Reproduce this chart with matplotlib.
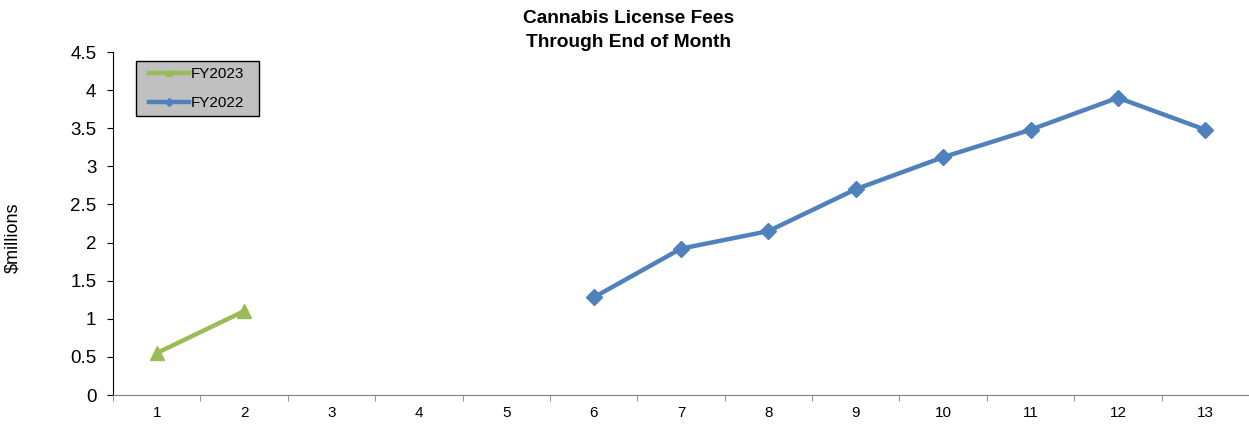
import matplotlib
matplotlib.use("Agg")
import matplotlib.pyplot as plt
from matplotlib.patches import Rectangle
import numpy as np

plt.rcParams['font.family'] = ['Liberation Sans', 'DejaVu Sans']

months = list(range(1, 14))
fy2023_x = [1, 2]
fy2023 = [0.55, 1.10]
fy2022_x = [6, 7, 8, 9, 10, 11, 12, 13]
fy2022 = [1.28, 1.92, 2.15, 2.70, 3.12, 3.48, 3.90, 3.48]
yticks = [0, 0.5, 1, 1.5, 2, 2.5, 3, 3.5, 4, 4.5]
ytick_labels = ['0', '0.5', '1', '1.5', '2', '2.5', '3', '3.5', '4', '4.5']

green = '#9BBB59'
blue = '#4F81BD'

W, H = 1249, 425
fig = plt.figure(figsize=(W/100, H/100), dpi=100)
ax = fig.add_axes([113/W, 1-395/H, 1-113/W, (395-52)/H])

ax.plot(fy2023_x, fy2023, color=green, lw=3.2, marker='^', ms=10.5, label='FY2023')
ax.plot(fy2022_x, fy2022, color=blue, lw=3.2, marker='D', ms=8.5, label='FY2022')

ax.set_xlim(0.5, 13.5)
ax.set_ylim(0, 4.5)
ax.set_yticks(yticks)
ax.set_yticklabels(ytick_labels, fontsize=13.5)
ax.set_xticks(months)
ax.set_xticklabels([str(m) for m in months], fontsize=11)
ax.tick_params(axis='x', length=0, pad=8)
ax.set_xticks(np.arange(0.5, 13.6, 1), minor=True)
ax.tick_params(axis='x', which='minor', length=4, color='#808080', direction='out')
ax.tick_params(axis='y', length=4.5, direction='out', pad=7.5)

for s in ['top', 'right']:
    ax.spines[s].set_visible(False)
ax.spines['bottom'].set_color('#808080')
ax.spines['left'].set_color('black')

fig.text(12.5/W, 1-238/H, '$millions', rotation=90, ha='center', va='center', fontsize=13)

fig.text(629/W, 1-23/H, 'Cannabis License Fees', ha='center', va='baseline',
         fontsize=13.8, fontweight='bold')
fig.text(629/W, 1-47/H, 'Through End of Month', ha='center', va='baseline',
         fontsize=13.8, fontweight='bold')

# legend box
box = Rectangle((136/W, 1-116/H), (259-136)/W, (116-61)/H, transform=fig.transFigure,
                facecolor='#C0C0C0', edgecolor='black', lw=1, zorder=4, clip_on=False)
ax.add_patch(box)

leg = ax.legend(loc='upper left', bbox_to_anchor=((149-113)/(W-113), (395-67)/343), frameon=False,
                fontsize=11, handlelength=2.6, handletextpad=0.12,
                borderpad=0, borderaxespad=0, labelspacing=1.0, markerscale=0.45)
leg.set_zorder(5)

fig.savefig('out.png', dpi=100)
